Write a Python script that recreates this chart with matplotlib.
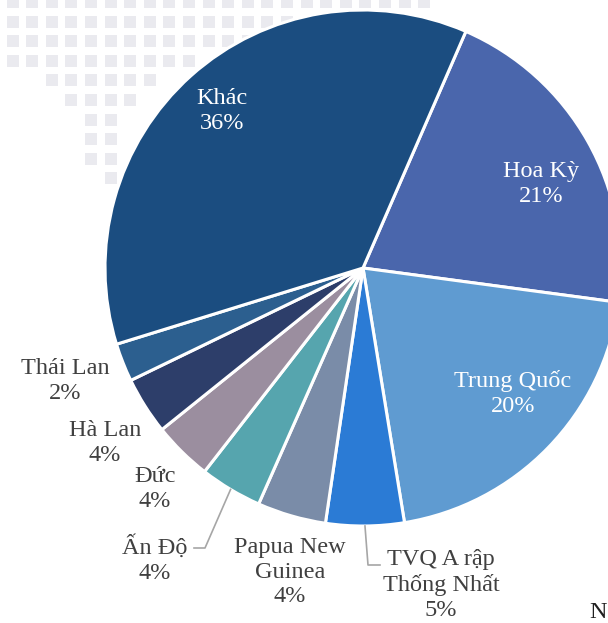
import numpy as np
import matplotlib.pyplot as plt
from matplotlib.patches import Rectangle

# Export market shares (%), clockwise from the top
countries = ["Hoa Kỳ", "Trung Quốc", "TVQ A rập\nThống Nhất", "Papua New\nGuinea",
             "Ấn Độ", "Đức", "Hà Lan", "Thái Lan", "Khác"]
shares = [20.6, 20.3, 4.9, 4.3, 3.9, 3.7, 3.6, 2.4, 36.3]
colors = ["#4A66AC", "#5F9BD1", "#2B7BD5", "#7A8CA8", "#56A5AE",
          "#9B8E9F", "#2D3E6A", "#2C5F8F", "#1B4D80"]

W, H = 608, 623
fig = plt.figure(figsize=(W / 100, H / 100), dpi=100)
ax = fig.add_axes([0, 0, 1, 1])

serif = ["Liberation Serif", "DejaVu Serif"]

# decorative dotted map in the upper-left corner
rows = {0: range(0, 22), 1: range(0, 15), 2: range(0, 14), 3: range(0, 10),
        4: range(2, 8), 5: range(3, 7), 6: range(4, 6), 7: range(4, 6),
        8: range(4, 6), 9: range(5, 6)}
for r, cols in rows.items():
    yc = 2 + 19.6 * r
    for c in cols:
        xc = 12.5 + 19.6 * c
        ax.add_patch(Rectangle((xc - 6, H - yc - 6), 12, 12,
                               facecolor="#EAEAEF", edgecolor="none", zorder=0))

cx, cy, R = 363, H - 268, 258
start = 66.5
wedges, _ = ax.pie(shares, colors=colors, startangle=start, counterclock=False,
                   center=(cx, cy), radius=R, frame=True,
                   wedgeprops=dict(edgecolor="white", linewidth=2.2))
ax.set_xlim(0, W)
ax.set_ylim(0, H)
ax.axis("off")

labels = [f"{n}\n{round(v):d}%" for n, v in zip(countries, shares)]

# label placement (pixel coordinates from top-left)
pos = [(541, 184), (513, 394), (441, 585), (290, 572), (155, 560),
       (155, 489), (105, 443), (65, 381), (222, 111)]
inside = {0, 1, 8}
for i, (lab, (x, y)) in enumerate(zip(labels, pos)):
    ax.text(x, H - y, lab, ha="center", va="center", fontsize=17.5,
            family=serif, linespacing=1.25,
            color="white" if i in inside else "#404040", zorder=5)

# leader lines from wedge rims
def rim_point(i):
    w = wedges[i]
    mid = np.deg2rad((w.theta1 + w.theta2) / 2)
    return cx + R * np.cos(mid), cy + R * np.sin(mid)

for i, elbow, end in [(2, (368, 565), (380, 565)), (4, (205, 548), (194, 548))]:
    x0, y0 = rim_point(i)
    ax.plot([x0, elbow[0], end[0]], [y0, H - elbow[1], H - end[1]],
            color="#A6A6A6", linewidth=1.2, zorder=4)

ax.text(607, H - 623, "N", ha="right", va="bottom", fontsize=17.5,
        family=serif, color="#202020")

fig.savefig("out.png", dpi=100)
